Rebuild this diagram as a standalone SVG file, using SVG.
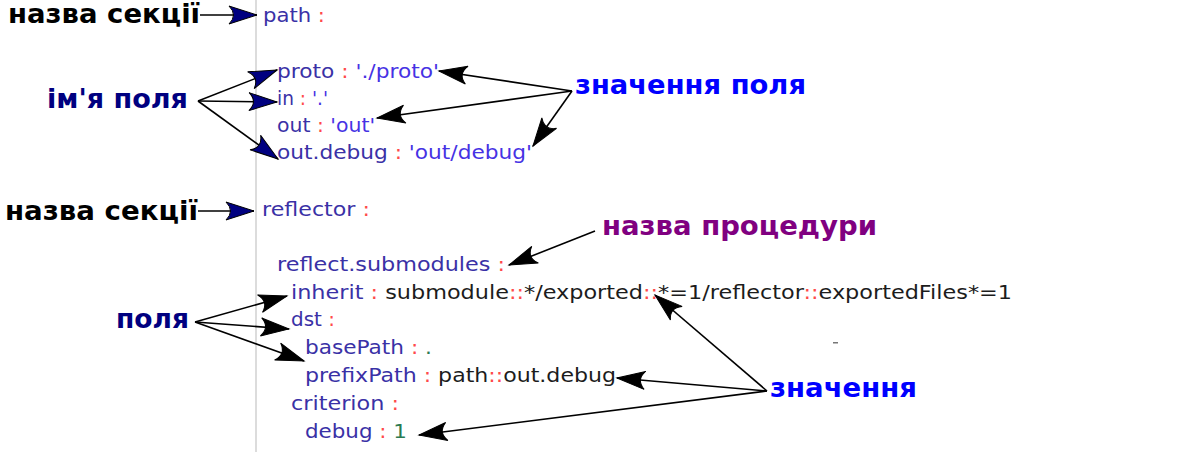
<svg xmlns="http://www.w3.org/2000/svg" width="1180" height="452" viewBox="0 0 1180 452">
<style>
.code{font-family:"DejaVu Sans","Noto Sans",sans-serif;font-size:20px;fill:#3a31a6}
.k{fill:#3a31a6}.s{fill:#4632e4}.c{fill:#ff4a4a}.v{fill:#1c1c1c}.g{fill:#2b7a52}
.lbl{font-family:"DejaVu Sans","Noto Sans",sans-serif;font-size:26px;font-weight:bold}
.ln{fill:none;stroke:#000;stroke-width:1.6}
.na{marker-end:url(#an)}.ba{marker-end:url(#ab)}
</style>
<defs>
<marker id="an" markerUnits="userSpaceOnUse" markerWidth="32" markerHeight="22" viewBox="-31 -11 32 22" refX="0" refY="0" orient="auto" overflow="visible">
<path d="M0,0 L-28,-9 Q-19,0 -28,9 Z" fill="#000080" stroke="#000" stroke-width="1"/>
</marker>
<marker id="ab" markerUnits="userSpaceOnUse" markerWidth="32" markerHeight="22" viewBox="-31 -11 32 22" refX="0" refY="0" orient="auto" overflow="visible">
<path d="M0,0 L-28,-9 Q-19,0 -28,9 Z" fill="#000" stroke="#000" stroke-width="1"/>
</marker>
</defs>
<rect width="1180" height="452" fill="#fff"/>
<line x1="256" y1="0" x2="256" y2="452" stroke="#dcdcdc" stroke-width="2"/>
<rect x="833" y="342" width="5" height="1.5" fill="#777"/>

<g id="code">
<text class="code" x="263" y="22" textLength="62" lengthAdjust="spacingAndGlyphs"><tspan class="k">path</tspan> <tspan class="c">:</tspan></text>
<text class="code" x="277" y="78" textLength="162" lengthAdjust="spacingAndGlyphs"><tspan class="k">proto</tspan> <tspan class="c">:</tspan> <tspan class="s">'./proto'</tspan></text>
<text class="code" x="277" y="105" textLength="51" lengthAdjust="spacingAndGlyphs"><tspan class="k">in</tspan> <tspan class="c">:</tspan> <tspan class="s">'.'</tspan></text>
<text class="code" x="277" y="132" textLength="98" lengthAdjust="spacingAndGlyphs"><tspan class="k">out</tspan> <tspan class="c">:</tspan> <tspan class="s">'out'</tspan></text>
<text class="code" x="277" y="159" textLength="255" lengthAdjust="spacingAndGlyphs"><tspan class="k">out.debug</tspan> <tspan class="c">:</tspan> <tspan class="s">'out/debug'</tspan></text>
<text class="code" x="262" y="216" textLength="108" lengthAdjust="spacingAndGlyphs"><tspan class="k">reflector</tspan> <tspan class="c">:</tspan></text>
<text class="code" x="277" y="271" textLength="228" lengthAdjust="spacingAndGlyphs"><tspan class="k">reflect.submodules</tspan> <tspan class="c">:</tspan></text>
<text class="code" x="291" y="299" textLength="721" lengthAdjust="spacingAndGlyphs"><tspan class="k">inherit</tspan> <tspan class="c">:</tspan> <tspan class="v">submodule</tspan><tspan class="c">::</tspan><tspan class="v">*/exported</tspan><tspan class="c">::</tspan><tspan class="v">*=1/reflector</tspan><tspan class="c">::</tspan><tspan class="v">exportedFiles*=1</tspan></text>
<text class="code" x="291" y="326" textLength="44" lengthAdjust="spacingAndGlyphs"><tspan class="k">dst</tspan> <tspan class="c">:</tspan></text>
<text class="code" x="305" y="354" textLength="127" lengthAdjust="spacingAndGlyphs"><tspan class="k">basePath</tspan> <tspan class="c">:</tspan> <tspan class="g">.</tspan></text>
<text class="code" x="305" y="382" textLength="311" lengthAdjust="spacingAndGlyphs"><tspan class="k">prefixPath</tspan> <tspan class="c">:</tspan> <tspan class="v">path</tspan><tspan class="c">::</tspan><tspan class="v">out.debug</tspan></text>
<text class="code" x="291" y="410" textLength="108" lengthAdjust="spacingAndGlyphs"><tspan class="k">criterion</tspan> <tspan class="c">:</tspan></text>
<text class="code" x="305" y="438" textLength="102" lengthAdjust="spacingAndGlyphs"><tspan class="k">debug</tspan> <tspan class="c">:</tspan> <tspan class="g">1</tspan></text>
</g>

<g id="label-section1"><text class="lbl" x="8" y="23" textLength="192" lengthAdjust="spacingAndGlyphs" fill="#000">назва секції</text></g>
<g id="label-fieldname"><text class="lbl" x="47" y="108" textLength="141" lengthAdjust="spacingAndGlyphs" fill="#000080">ім'я поля</text></g>
<g id="label-fieldvalue"><text class="lbl" x="575" y="94" textLength="231" lengthAdjust="spacingAndGlyphs" fill="#0000ff">значення поля</text></g>
<g id="label-section2"><text class="lbl" x="5" y="220" textLength="193" lengthAdjust="spacingAndGlyphs" fill="#000">назва секції</text></g>
<g id="label-procedure"><text class="lbl" x="602" y="235" textLength="275" lengthAdjust="spacingAndGlyphs" fill="#800080">назва процедури</text></g>
<g id="label-fields"><text class="lbl" x="116" y="328" textLength="73" lengthAdjust="spacingAndGlyphs" fill="#000080">поля</text></g>
<g id="label-values"><text class="lbl" x="770" y="397" textLength="147" lengthAdjust="spacingAndGlyphs" fill="#0000ff">значення</text></g>

<g id="connectors">
<path class="ln na" d="M200,15 L257,15"/>
<path class="ln na" d="M198,101 L277,70"/>
<path class="ln na" d="M198,101 L277,102"/>
<path class="ln na" d="M198,101 L278,159"/>
<path class="ln ba" d="M572,91 L439,71"/>
<path class="ln ba" d="M572,91 L377,118"/>
<path class="ln ba" d="M572,91 L533,146"/>
<path class="ln na" d="M198,211 L254,211"/>
<path class="ln ba" d="M595,231 L509,265"/>
<path class="ln ba" d="M195,322 L287,296"/>
<path class="ln ba" d="M195,322 L289,329"/>
<path class="ln ba" d="M195,322 L304,361"/>
<path class="ln ba" d="M767,391 L655,295"/>
<path class="ln ba" d="M767,391 L617,378"/>
<path class="ln ba" d="M767,391 L419,435"/>
</g>
</svg>
